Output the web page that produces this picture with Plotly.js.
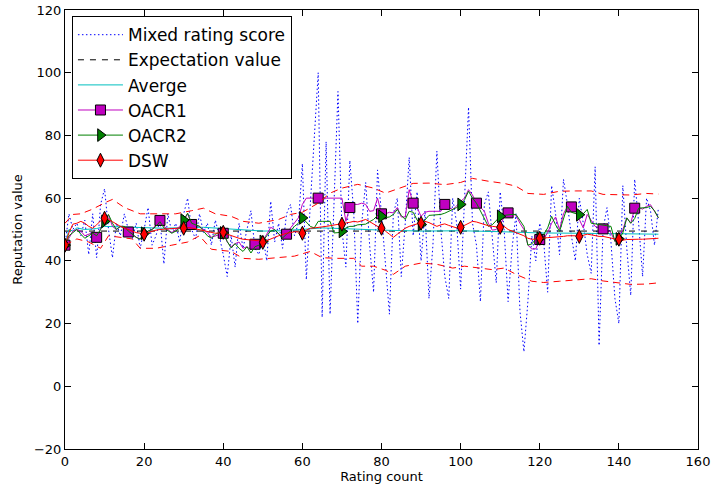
<!DOCTYPE html>
<html>
<head>
<meta charset="utf-8">
<script src="https://cdn.plot.ly/plotly-3.0.1.min.js"></script>
<style>html,body{margin:0;padding:0;background:#fff;}#chart{width:716px;height:490px;}</style>
</head>
<body>
<div id="chart"></div>
<script>
// ---- data ----
const mixedScore = [45,55,50,52,48,53,42,55,41,58,63,50,41,52,48,55,50,47,52,44,
50,57,45,48,53,39,55,49,52,46,55,60,50,47,55,49,52,45,53,48,
42,35,48,38,52,44,50,56,44,42,48,40,59,46,52,44,55,58,48,52,
71,34,58,78,100,22,78,23,60,94,50,38,72,55,20,52,65,45,30,69,
55,38,23,55,60,35,52,73,48,62,40,56,28,45,75,50,35,28,60,52,
31,60,89,52,45,27,58,62,46,33,62,50,27,44,55,24,11,27,48,40,
52,46,30,64,55,42,66,58,48,40,60,52,42,36,70,13,50,57,46,28,
20,64,44,29,66,52,35,60,56,45,57];

const expX = [0, 150];
const expValue = [49.5, 49.5];

const avgX = [0,1,2,3,5,8,10,15,20,25,30,35,40,45,50,55,60,65,70,75,80,90,100,110,120,130,140,150];
const avgValue = [45,50,49.5,50.5,50,50.3,51,50.8,50.5,50.4,50.6,50.7,50.3,49.8,49.5,49.6,50,50.5,50.3,50,49.8,49.5,49.6,49.3,48.9,48.8,48.6,48.5];

const oacr1 = [45,47.5,49.5,50,49.5,48,48.5,49,47.5,50,53,54.5,51,50,51,50.5,49.2,48.5,47.5,47,
48.5,49.5,50,51.5,52.9,51,50,49,50,51,53,55,51.6,51.5,51,50,49,47.5,48,48.5,
48.8,46,44.5,45.5,46,44,44.5,43.5,45.3,45.5,46.5,48.5,50.7,50,48.5,47.5,48.5,50.5,52,53.7,
58,60,60,60,60,60,60,60,60,60,60,52.6,57,58,58,58.4,58,55.8,56,60,
55,55,55.5,55.3,57,54,54,62.7,58.4,57,54.2,55.5,55.8,55.8,55.8,55.8,58,57,56.4,57.5,
59,60,62.7,61,58.4,57,55.8,52,49.8,50,51.5,54,55.3,55,54.5,52,50,45,43.8,43.8,
46.8,47,49,52,54,50,55,57.4,57.2,57,53.2,50.5,54.8,53,51,50.5,50.2,50,49,46.2,
48,50,53.7,52,56.8,57,56.5,57.4,57.9,56,53.7];

const oacr2 = [45,48,49,50,48.5,47.2,48,48.8,48,50,52.6,54.8,52,50,51,51,49.5,48.5,47.5,46.9,
48.8,49.5,50,51,52.5,50.5,49.5,48.8,49.5,50.5,53,55.2,52,51.5,51,49.5,48,47.2,48.5,49,
48.9,46.2,44.1,45.5,44,43,44.5,42.5,44.5,45,46.2,48,49.5,50,48.5,47.3,48.5,49.5,51,52,
53.7,52.5,51,50.5,52.6,52.6,52.6,52.6,48.9,49,49.4,50.5,51,51,51.5,51.7,51.7,52.5,53.2,54.5,
54.2,53.8,54,54.8,56.4,54.5,53.2,55.8,55.5,53,51.6,53,54.5,54.6,54.7,54.8,55.2,55.8,56.2,57,
58,59.5,62.2,60,58.4,56,53.5,51,51.5,53,54.2,54.5,54.7,54.8,54.8,53,51,45,45.4,46.9,
47.2,48.5,50.5,54.2,51.5,49.4,53.5,57.4,55.5,55,54.7,55,56.4,52,51.8,51.5,51.3,51.1,51,46.2,
47,48.9,53.7,52,53.5,56.8,56.8,57,57.4,56,53.7];

const dsw = [45,49,51.7,52,52.6,52,51,50.4,51.5,52.8,53.6,53.2,52.5,51.7,51,50.5,50,49.5,49,48.8,
48.5,49,49.5,49.8,50,50,50.2,50.3,50.4,50.5,50.4,50.6,50.5,50.2,50,49.7,49.3,49,48.8,48.9,
49.1,48.5,48,47.5,47.2,46.9,46.8,46.7,46.6,46.4,45.9,46.5,47,47.5,48,48.5,48.8,49,49.3,49.2,
48.8,49.8,50.4,50.5,50.6,50.8,51,51.2,51.4,51.6,51.7,51.9,52.3,52.6,52.4,52.8,53.2,52.5,51.8,51,
50.4,49.5,48.5,47.5,48.5,49.5,50.4,51,51.5,51.8,52,52.6,52.2,51.5,51,51.5,51.8,51.3,50.8,50.5,
50.7,51.3,52,52.6,52.4,52,51.5,51.2,51,50.8,50.7,51,50,49.5,49,48.5,48,47.2,46.9,46.9,
47.2,47.3,47.4,47.5,47.5,47.5,47.8,48,48.1,48,47.8,48.2,48.5,48.3,48,47.8,47.8,47.5,47.2,47,
46.9,46.6,46.8,46.9,47,46.9,46.9,47,47.1,47.2,47.2];

const upperX = [0,2,4,7,10,12,15,19,22,25,28,32,35,38,42,45,49,54,57,60,64,67,70,74,78,81,85,88,92,96,100,103,107,111,114,117,121,125,129,133,136,140,143,147,150];
const upperValue = [52,54.8,55,56.5,58.5,59.6,57,55,55,55,55,56,56.8,55,54.2,52.6,52,53.2,54.8,55.5,58.4,61.6,63.2,64.4,63.2,61.6,63.5,64.7,64.8,64.3,65,66.3,65.4,64.7,63.8,61.5,61.2,62.2,62.3,62.3,61.2,61.2,61,61.5,61.3];

const lowerX = [0,3,6,9,11,14,17,19,23,27,31,34,37,42,45,49,54,58,62,65,69,73,75,78,81,83,86,90,94,98,101,105,108,111,114,118,121,125,129,133,136,140,143,147,150];
const lowerValue = [45,47,46,44,48,47.5,47,44,44,45,46,48,43.7,43,40.8,40.5,41,41.5,43,41,40.8,40.8,38.3,38.3,37,35.7,38.3,39.3,38.9,37.7,38.3,37.6,37.2,37.7,35.7,33.5,33.1,33.5,34,34.3,33.6,33,32.5,32.6,33];

const xTicks = [0,20,40,60,80,100,120,140,160];
const yTicks = [-20,0,20,40,60,80,100,120];

// ---- build ----
const xs = mixedScore.map((_, i) => i);
function every(n, len){ const r=[]; for(let i=0;i<len-1;i+=n) r.push(i); return r; }

const traces = [
  {x: xs, y: mixedScore, name: 'Mixed rating score', mode: 'lines',
   line: {color: '#0000ff', width: 1, dash: '1.5px,2.5px'}},
  {x: expX, y: expValue, name: 'Expectation value', mode: 'lines',
   line: {color: '#000000', width: 1, dash: '6px,6px'}},
  {x: avgX, y: avgValue, name: 'Averge', mode: 'lines',
   line: {color: '#00bfbf', width: 1}},
  {x: xs, y: oacr1, name: 'OACR1', mode: 'lines+markers',
   line: {color: '#bf00bf', width: 1},
   marker: {symbol: 'square', size: 10, color: '#bf00bf', line: {color: '#000', width: 1}},
   selectedpoints: every(8, oacr1.length), unselected: {marker: {opacity: 0}}},
  {x: xs, y: oacr2, name: 'OACR2', mode: 'lines+markers',
   line: {color: '#008000', width: 1},
   marker: {symbol: 'triangle-right', size: 11, color: '#008000', line: {color: '#000', width: 1}},
   selectedpoints: every(10, oacr2.length), unselected: {marker: {opacity: 0}}},
  {x: xs, y: dsw, name: 'DSW', mode: 'lines+markers',
   line: {color: '#ff0000', width: 1},
   marker: {symbol: 'diamond-tall', size: 10, color: '#ff0000', line: {color: '#000', width: 1}},
   selectedpoints: every(10, dsw.length), unselected: {marker: {opacity: 0}}},
  {x: upperX, y: upperValue, mode: 'lines', showlegend: false, hoverinfo: 'skip',
   line: {color: '#ff0000', width: 1, dash: '7px,5px'}},
  {x: lowerX, y: lowerValue, mode: 'lines', showlegend: false, hoverinfo: 'skip',
   line: {color: '#ff0000', width: 1, dash: '7px,5px'}}
];

const axisCommon = {
  showgrid: false, zeroline: false, showline: true, linecolor: '#000', linewidth: 1,
  mirror: 'ticks', ticks: 'inside', ticklen: 6, tickcolor: '#000', tickwidth: 1,
  tickfont: {family: 'DejaVu Sans', size: 13, color: '#000'}
};

const layout = {
  width: 716, height: 490,
  margin: {l: 65, r: 18, t: 10, b: 41},
  paper_bgcolor: '#fff', plot_bgcolor: '#fff',
  font: {family: 'DejaVu Sans', color: '#000'},
  xaxis: Object.assign({}, axisCommon, {
    range: [0, 160], tickmode: 'array', tickvals: xTicks, ticktext: xTicks.map(String),
    title: {text: 'Rating count', font: {family: 'DejaVu Sans', size: 13}, standoff: 4}
  }),
  yaxis: Object.assign({}, axisCommon, {
    range: [-20, 120], tickmode: 'array', tickvals: yTicks, ticktext: yTicks.map(v => v < 0 ? '\u2212' + Math.abs(v) : String(v)),
    title: {text: 'Reputation value', font: {family: 'DejaVu Sans', size: 13}, standoff: 8}
  }),
  legend: {
    x: 0.011, y: 0.986, xanchor: 'left', yanchor: 'top',
    bgcolor: '#fff', bordercolor: '#000', borderwidth: 1,
    font: {family: 'DejaVu Sans', size: 17, color: '#000'},
    itemwidth: 45, tracegroupgap: 0
  },
  showlegend: true
};

Plotly.newPlot('chart', traces, layout, {staticPlot: true, displayModeBar: false});
</script>
</body>
</html>
